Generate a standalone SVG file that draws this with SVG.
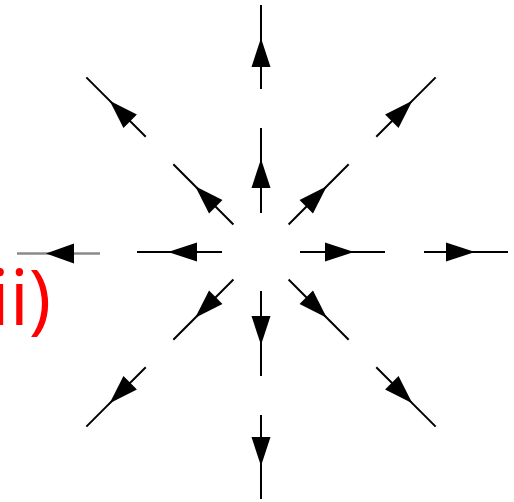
<svg xmlns="http://www.w3.org/2000/svg" xmlns:xlink="http://www.w3.org/1999/xlink" width="514" height="502" viewBox="0 0 514 502">
  <style>
    .shaft { stroke: #000; stroke-width: 2; fill: none; }
    .head { fill: #000; stroke: none; }
    .label { font-family: "Open Sans", "Liberation Sans", sans-serif; font-size: 76px; fill: #ff0000; }
  </style>
  <defs>
    <g id="arrowInner">
      <line class="shaft" x1="39" y1="0" x2="124" y2="0"/>
      <polygon class="head" points="64,-9.5 93,0 64,9.5"/>
    </g>
    <g id="arrowOuter">
      <line class="shaft" x1="163" y1="0" x2="247" y2="0"/>
      <polygon class="head" points="185,-9.5 214,0 185,9.5"/>
    </g>
  </defs>
  <rect width="514" height="502" fill="#fff"/>
  <g id="arrows" transform="translate(261,252)">
    <use xlink:href="#arrowInner" transform="rotate(0)"/>
    <use xlink:href="#arrowOuter" transform="rotate(0)"/>
    <use xlink:href="#arrowInner" transform="rotate(45)"/>
    <use xlink:href="#arrowOuter" transform="rotate(45)"/>
    <use xlink:href="#arrowInner" transform="rotate(90)"/>
    <use xlink:href="#arrowOuter" transform="rotate(90)"/>
    <use xlink:href="#arrowInner" transform="rotate(135)"/>
    <use xlink:href="#arrowOuter" transform="rotate(135)"/>
    <use xlink:href="#arrowInner" transform="rotate(180)"/>
    <use xlink:href="#arrowInner" transform="rotate(225)"/>
    <use xlink:href="#arrowOuter" transform="rotate(225)"/>
    <use xlink:href="#arrowInner" transform="rotate(270)"/>
    <use xlink:href="#arrowOuter" transform="rotate(270)"/>
    <use xlink:href="#arrowInner" transform="rotate(315)"/>
    <use xlink:href="#arrowOuter" transform="rotate(315)"/>
  </g>
  <g id="arrow-left-outer">
    <line x1="17" y1="253.5" x2="100" y2="253.5" stroke="#8a8a8a" stroke-width="2.5"/>
    <polygon class="head" points="74,243.5 46,253.5 74,263.5"/>
  </g>
  <text class="label" x="-9.5" y="325">ii)</text>
</svg>
